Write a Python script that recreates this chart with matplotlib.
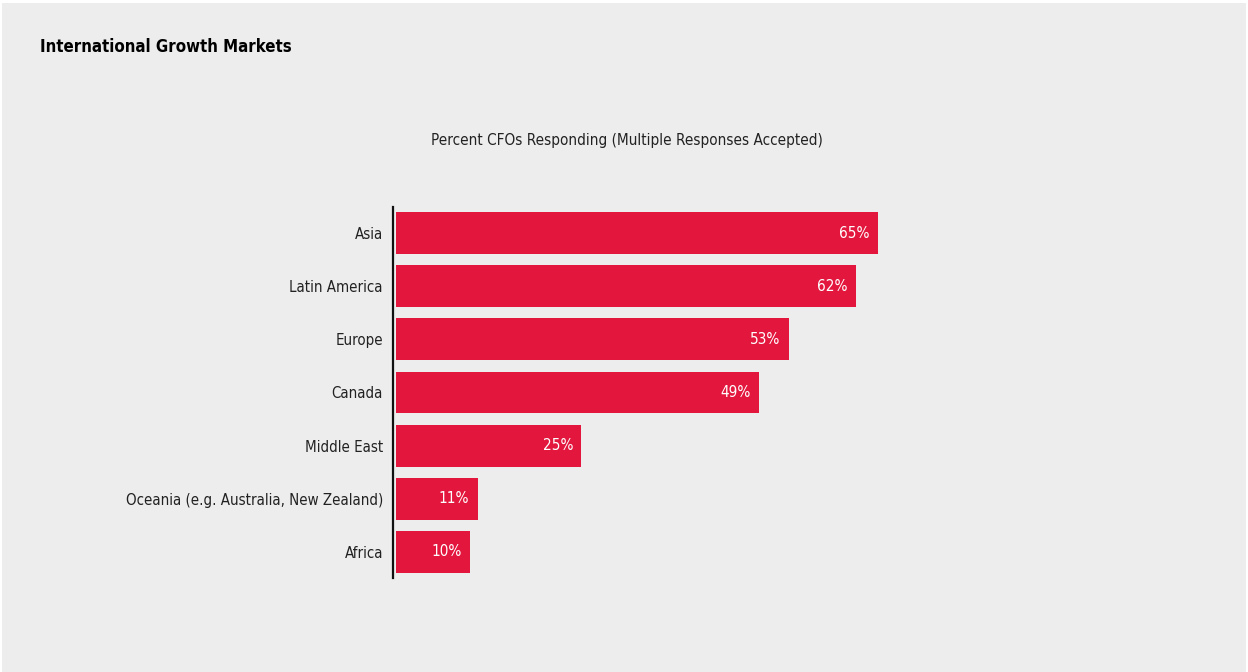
import matplotlib
matplotlib.use("Agg")
import matplotlib.pyplot as plt
from matplotlib.patches import Rectangle

categories = ["Asia", "Latin America", "Europe", "Canada", "Middle East",
              "Oceania (e.g. Australia, New Zealand)", "Africa"]
values = [65, 62, 53, 49, 25, 11, 10]
value_labels = ["65%", "62%", "53%", "49%", "25%", "11%", "10%"]

title = "International Growth Markets"
subtitle = "Percent CFOs Responding (Multiple Responses Accepted)"

BG = "#ededed"
BAR = "#e3173e"

plt.rcParams["font.family"] = ["DejaVu Sans"]
plt.rcParams["font.stretch"] = "condensed"

W, H = 1248, 672
fig = plt.figure(figsize=(W / 100, H / 100), dpi=100, facecolor="white")

# gray panel inside a thin white frame
fig.patches.append(Rectangle((2 / W, 0), (W - 4) / W, (H - 3) / H,
                             transform=fig.transFigure, facecolor=BG,
                             edgecolor="none", zorder=-10))

def px_rect(x0, y0, x1, y1):
    return [x0 / W, 1 - y1 / H, (x1 - x0) / W, (y1 - y0) / H]

ax = fig.add_axes(px_rect(396, 207, 396 + 741.5, 578))
ax.set_zorder(2)
ax.set_facecolor("none")
ypos = list(range(len(categories)))
ax.barh(ypos, values, height=0.79, color=BAR)
ax.set_xlim(0, 100)
ax.set_ylim(len(categories) - 0.51, -0.49)

for s in ["top", "right", "bottom"]:
    ax.spines[s].set_visible(False)
ax.spines["left"].set_position(("outward", 2.2))
ax.spines["left"].set_linewidth(1.6)
ax.spines["left"].set_color("#111111")
ax.set_xticks([])
ax.set_yticks(ypos)
ax.set_yticklabels(categories, fontsize=10.8, color="#222222", fontstretch="condensed")
ax.tick_params(axis="y", length=0, pad=7.2)

for y, v, lab in zip(ypos, values, value_labels):
    ax.annotate(lab, xy=(v, y), xytext=(-6, 0), textcoords="offset points",
                ha="right", va="center", color="white", fontsize=11,
                fontstretch="condensed")

fig.text(40 / W, 1 - 47 / H, title, fontsize=12.1, fontweight="bold",
         fontstretch="condensed", color="black", ha="left", va="center")
fig.text(627 / W, 1 - 140 / H, subtitle, fontsize=11, fontstretch="condensed",
         color="#222222", ha="center", va="center")

fig.savefig("out.png", dpi=100, facecolor="white")
